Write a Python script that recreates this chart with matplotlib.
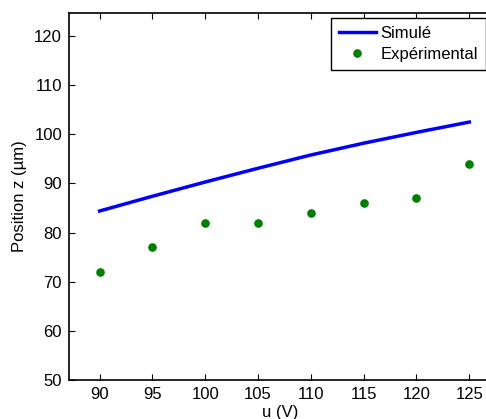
import numpy as np
import matplotlib.pyplot as plt

# donnees
u_volts = [90, 95, 100, 105, 110, 115, 120, 125]
z_simule = [84.4, 87.4, 90.3, 93.1, 95.8, 98.2, 100.4, 102.5]
z_experimental = [72, 77, 82, 82, 84, 86, 87, 94]
xticks = [90, 95, 100, 105, 110, 115, 120, 125]
yticks = [50, 60, 70, 80, 90, 100, 110, 120]

plt.rcParams['font.family'] = ['Liberation Sans', 'DejaVu Sans']
plt.rcParams['font.size'] = 12

fig = plt.figure(figsize=(4.86, 4.19), dpi=100)
# l'axe depasse un peu a droite (coupe comme dans l'original)
ax = fig.add_axes([69 / 486, 1 - 380 / 419, (492 - 69) / 486, (380 - 13) / 419])

ax.plot(u_volts, z_simule, color='#0000ff', linewidth=2.5, label='Simulé')
ax.plot(u_volts, z_experimental, 'o', color='#008000', markersize=5.2,
        label='Expérimental')

ax.set_xlim(87.1, 127.15)
ax.set_ylim(50, 124.7)
ax.set_xticks(xticks)
ax.set_yticks(yticks)
ax.tick_params(direction='in', length=4, width=0.8, top=True, right=True,
               labelsize=12, colors='black', pad=5)
for s in ax.spines.values():
    s.set_linewidth(1.2)

ax.set_xlabel('u (V)', fontsize=12, labelpad=2)
ax.set_ylabel('Position z (µm)', fontsize=12, labelpad=5)

leg = ax.legend(loc='upper right', bbox_to_anchor=(485.5 / 486, 1 - 18.5 / 419),
                bbox_transform=fig.transFigure, borderaxespad=0,
                fancybox=False, framealpha=1, edgecolor='black',
                handlelength=2.2, handletextpad=0.3, borderpad=0.45,
                labelspacing=0.38, fontsize=12)
leg.get_frame().set_linewidth(1.0)

fig.savefig('out.png', dpi=100)
